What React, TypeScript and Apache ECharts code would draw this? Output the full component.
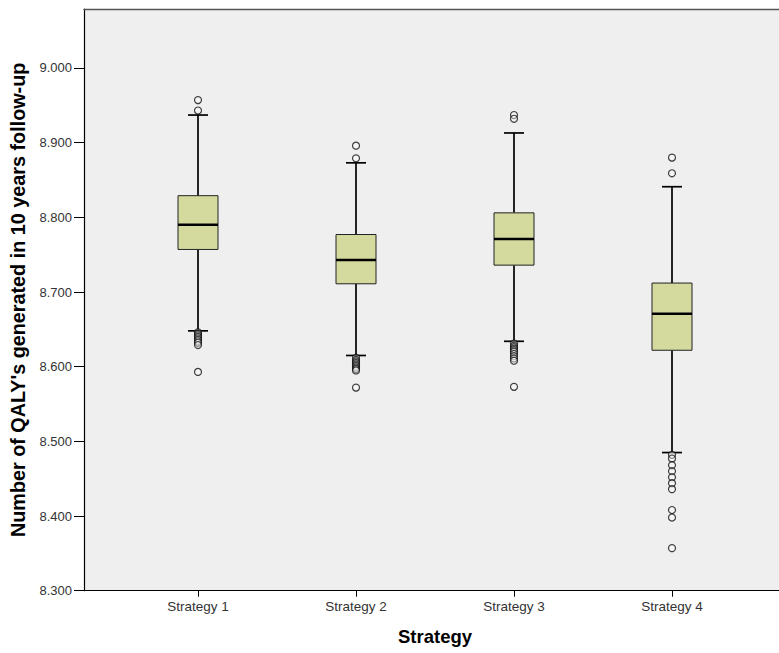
import React, { useEffect, useRef } from "react";
import * as echarts from "echarts";

const categories = ["Strategy 1", "Strategy 2", "Strategy 3", "Strategy 4"];
const whiskerLow = [8.648, 8.615, 8.634, 8.485];
const quartile1 = [8.757, 8.711, 8.736, 8.622];
const medians = [8.79, 8.743, 8.771, 8.671];
const quartile3 = [8.829, 8.777, 8.806, 8.712];
const whiskerHigh = [8.937, 8.873, 8.913, 8.841];

const outliersS1 = [8.957, 8.943, 8.646, 8.644, 8.642, 8.64, 8.638, 8.636, 8.634, 8.632, 8.629, 8.593];
const outliersS2 = [8.896, 8.879, 8.612, 8.609, 8.607, 8.605, 8.603, 8.601, 8.599, 8.597, 8.595, 8.572];
const outliersS3 = [8.937, 8.932, 8.631, 8.628, 8.626, 8.624, 8.622, 8.62, 8.617, 8.614, 8.611, 8.608, 8.573];
const outliersS4 = [8.88, 8.859, 8.482, 8.477, 8.468, 8.46, 8.452, 8.444, 8.436, 8.408, 8.398, 8.357];

const yTicks = [8.3, 8.4, 8.5, 8.6, 8.7, 8.8, 8.9, 9.0];
const yMin = 8.3;
const yMax = 9.079;

const FONT = "'Liberation Sans', Arial, sans-serif";

export default function App() {
  const ref = useRef<HTMLDivElement>(null);

  useEffect(() => {
    if (!ref.current) return;
    const chart = echarts.init(ref.current, undefined, { renderer: "svg" });

    const boxData = categories.map((_, i) => [
      i,
      whiskerLow[i],
      quartile1[i],
      medians[i],
      quartile3[i],
      whiskerHigh[i],
    ]);
    const outlierGroups = [outliersS1, outliersS2, outliersS3, outliersS4];
    const outlierData: number[][] = [];
    outlierGroups.forEach((g, i) => g.forEach((v) => outlierData.push([i, v])));

    const option: any = {
      animation: false,
      backgroundColor: "#ffffff",
      grid: [
        {
          left: 84,
          top: 9,
          width: 695,
          height: 581.7,
          show: true,
          backgroundColor: "#efefef",
          borderWidth: 0,
          containLabel: false,
          outerBoundsMode: "none",
        },
        {
          left: 119,
          top: 9,
          width: 632,
          height: 581.7,
          containLabel: false,
          outerBoundsMode: "none",
        },
      ],
      xAxis: [
        {
          gridIndex: 0,
          type: "value",
          min: 0,
          max: 1,
          position: "bottom",
          axisLine: { show: true, lineStyle: { color: "#000", width: 1.2 } },
          axisTick: { show: false },
          axisLabel: { show: false },
          splitLine: { show: false },
        },
        {
          gridIndex: 0,
          type: "value",
          min: 0,
          max: 1,
          position: "top",
          axisLine: { show: true, lineStyle: { color: "#555", width: 1.3 } },
          axisTick: { show: false },
          axisLabel: { show: false },
          splitLine: { show: false },
        },
        {
          gridIndex: 1,
          type: "category",
          data: categories,
          position: "bottom",
          axisLine: { show: false },
          axisTick: {
            show: true,
            alignWithLabel: true,
            length: 6,
            lineStyle: { color: "#000", width: 1 },
          },
          axisLabel: {
            show: true,
            margin: 9,
            color: "#333",
            fontSize: 13.5,
            fontFamily: FONT,
          },
          name: "Strategy",
          nameLocation: "middle",
          nameGap: 36,
          nameTextStyle: {
            color: "#000",
            fontSize: 18.5,
            fontWeight: "bold",
            fontFamily: FONT,
          },
          splitLine: { show: false },
        },
      ],
      yAxis: [
        {
          gridIndex: 0,
          type: "value",
          min: yMin,
          max: yMax,
          axisLine: { show: true, lineStyle: { color: "#000", width: 1.2 } },
          axisTick: {
            show: true,
            length: 10,
            customValues: yTicks,
            lineStyle: { color: "#000", width: 1 },
          },
          axisLabel: {
            show: true,
            customValues: yTicks,
            margin: 12,
            color: "#333",
            fontSize: 13,
            fontFamily: FONT,
            formatter: (v: number) => v.toFixed(3),
          },
          splitLine: { show: false },
          name: "Number of QALY's generated in 10 years follow-up",
          nameLocation: "middle",
          nameGap: 56,
          nameTextStyle: {
            color: "#000",
            fontSize: 19.8,
            fontWeight: "bold",
            fontFamily: FONT,
          },
        },
        {
          gridIndex: 1,
          type: "value",
          min: yMin,
          max: yMax,
          show: false,
          splitLine: { show: false },
        },
      ],
      series: [
        {
          type: "custom",
          xAxisIndex: 2,
          yAxisIndex: 1,
          data: boxData,
          encode: { x: 0, y: [1, 2, 3, 4, 5] },
          z: 2,
          renderItem: (params: any, api: any) => {
            const x = api.value(0);
            const lo = api.coord([x, api.value(1)]);
            const b1 = api.coord([x, api.value(2)]);
            const md = api.coord([x, api.value(3)]);
            const b3 = api.coord([x, api.value(4)]);
            const hi = api.coord([x, api.value(5)]);
            const cx = lo[0];
            const bw = 40;
            const cw = 20;
            const wStyle = { stroke: "#000", lineWidth: 1.7 };
            return {
              type: "group",
              children: [
                { type: "line", shape: { x1: cx, y1: lo[1], x2: cx, y2: b1[1] }, style: wStyle },
                { type: "line", shape: { x1: cx, y1: b3[1], x2: cx, y2: hi[1] }, style: wStyle },
                { type: "line", shape: { x1: cx - cw / 2, y1: lo[1], x2: cx + cw / 2, y2: lo[1] }, style: wStyle },
                { type: "line", shape: { x1: cx - cw / 2, y1: hi[1], x2: cx + cw / 2, y2: hi[1] }, style: wStyle },
                {
                  type: "rect",
                  shape: { x: cx - bw / 2, y: b3[1], width: bw, height: b1[1] - b3[1] },
                  style: { fill: "#d4da9e", stroke: "#222", lineWidth: 1 },
                },
                {
                  type: "line",
                  shape: { x1: cx - bw / 2, y1: md[1], x2: cx + bw / 2, y2: md[1] },
                  style: { stroke: "#000", lineWidth: 2.5 },
                },
              ],
            };
          },
        },
        {
          type: "scatter",
          xAxisIndex: 2,
          yAxisIndex: 1,
          data: outlierData,
          symbol: "circle",
          symbolSize: 7,
          z: 3,
          itemStyle: { color: "rgba(255,255,255,0.5)", borderColor: "#111", borderWidth: 1.2 },
        },
      ],
    };

    chart.setOption(option);
    return () => chart.dispose();
  }, []);

  return (
    <div
      ref={ref}
      style={{ position: "absolute", left: 0, top: 0, width: 779, height: 653 }}
    />
  );
}
